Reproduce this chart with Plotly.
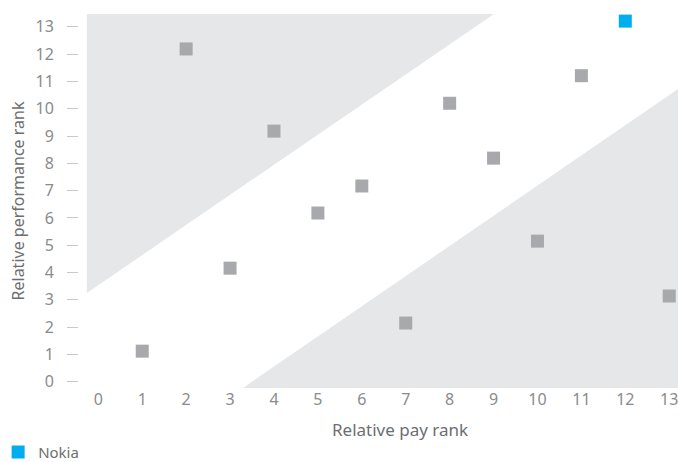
import plotly.graph_objects as go

# Data
pay_rank = [1, 2, 3, 4, 5, 6, 7, 8, 9, 10, 11, 13]
perf_rank = [1.12, 12.19, 4.16, 9.18, 6.18, 7.17, 2.15, 10.2, 8.19, 5.15, 11.21, 3.14]
nokia_pay = [12]
nokia_perf = [13.21]

x_ticks = list(range(0, 14))
y_ticks = list(range(0, 14))

# Background bands (upper-left and lower-right triangles)
band_upper_x = [-0.26, -0.26, 9.01]
band_upper_y = [13.47, 3.25, 13.47]
band_lower_x = [3.29, 13.2, 13.2]
band_lower_y = [-0.23, -0.23, 10.72]

BAND = "#e6e7e8"
GRAY = "#a7a9ac"
BLUE = "#00aeef"
TXT = "#6d6e71"
TICK = "#8a8b8e"

fig = go.Figure()
for bx, by in [(band_upper_x, band_upper_y), (band_lower_x, band_lower_y)]:
    fig.add_trace(go.Scatter(x=bx, y=by, mode="lines", fill="toself",
                             fillcolor=BAND, line=dict(width=0),
                             hoverinfo="skip", showlegend=False))

fig.add_trace(go.Scatter(x=pay_rank, y=perf_rank, mode="markers",
                         marker=dict(symbol="square", size=13, color=GRAY),
                         showlegend=False, name="Peers"))
fig.add_trace(go.Scatter(x=nokia_pay, y=nokia_perf, mode="markers",
                         marker=dict(symbol="square", size=13, color=BLUE),
                         name="Nokia", showlegend=True))

fig.update_layout(
    width=678, height=462,
    margin=dict(l=79, r=0, t=14, b=74, autoexpand=False),
    paper_bgcolor="white", plot_bgcolor="white",
    font=dict(family="Noto Sans", size=16, color=TXT),
    showlegend=True,
    legend=dict(xref="paper", yref="paper", x=-0.135, y=-0.216,
                xanchor="left", yanchor="bottom",
                font=dict(size=15, color=TXT), bgcolor="rgba(0,0,0,0)"),
    xaxis=dict(range=[-0.44, 13.2], tickmode="array", tickvals=x_ticks,
               ticktext=[str(v) for v in x_ticks], showgrid=False,
               zeroline=False, showline=False, ticks="", automargin=False,
               ticklabeloverflow="allow",
               tickfont=dict(size=16, color=TICK)),
    yaxis=dict(range=[-0.23, 13.47], tickmode="array", tickvals=y_ticks,
               ticktext=[str(v) for v in y_ticks], showgrid=False,
               zeroline=False, showline=False, ticks="outside", ticklen=11,
               tickwidth=1, tickcolor="#c7c8ca", ticklabelstandoff=10,
               automargin=False, ticklabeloverflow="allow",
               tickfont=dict(size=16, color=TICK),
               title=dict(text="Relative performance rank", standoff=6,
                          font=dict(size=16, color=TXT))),
    annotations=[dict(text="Relative pay rank", xref="paper", yref="paper",
                      x=0.536, y=-0.112, xanchor="center", yanchor="middle",
                      showarrow=False, font=dict(size=17, color=TXT))],
)

fig.write_html(
    "out.html",
    config={"displayModeBar": False},
    post_script="document.body.style.margin='0';document.body.style.overflow='hidden';",
)
